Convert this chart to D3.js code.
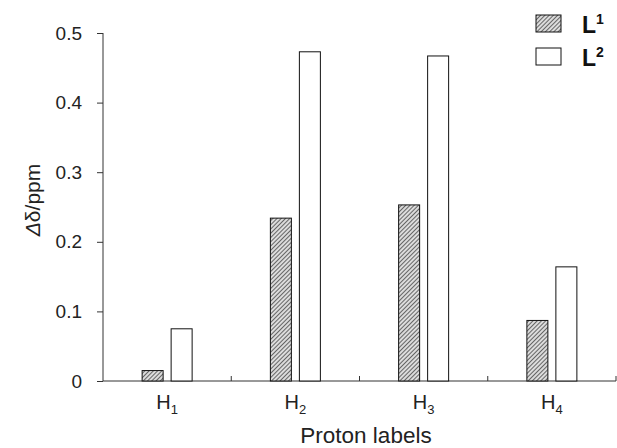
<!DOCTYPE html>
<html>
<head>
<meta charset="utf-8">
<script src="https://cdn.jsdelivr.net/npm/d3@7"></script>
<style>
  body { margin: 0; background: #fff; }
  svg { font-family: "Liberation Sans", Arial, sans-serif; }
</style>
</head>
<body>
<svg width="617" height="448"></svg>
<script>
// data
var protons = ["1", "2", "3", "4"];
var seriesNames = ["1", "2"];
var valuesL1 = [0.015, 0.234, 0.253, 0.087];
var valuesL2 = [0.075, 0.473, 0.467, 0.164];
var yTicks = [0, 0.1, 0.2, 0.3, 0.4, 0.5];

var svg = d3.select("svg");
var plotLeft = 103, plotRight = 616, plotTop = 33, plotBottom = 381;

var defs = svg.append("defs");
var pat = defs.append("pattern")
    .attr("id", "hatch")
    .attr("patternUnits", "userSpaceOnUse")
    .attr("width", 3)
    .attr("height", 3)
    .attr("patternTransform", "rotate(45)");
pat.append("rect").attr("width", 3).attr("height", 3).attr("fill", "#dcdcdc");
pat.append("line")
    .attr("x1", 0).attr("y1", 0).attr("x2", 0).attr("y2", 3)
    .attr("stroke", "#333").attr("stroke-width", 1.4);

var xScale = d3.scaleBand().domain(protons).range([plotLeft, plotRight]);
var yScale = d3.scaleLinear().domain([0, 0.5]).range([plotBottom, plotTop]);

// y axis
var yAxis = svg.append("g")
    .attr("transform", "translate(" + plotLeft + ",0)")
    .call(d3.axisLeft(yScale).tickValues(yTicks).tickSize(6).tickPadding(15)
        .tickFormat(function(d) { return d === 0 ? "0" : d3.format(".1f")(d); }));
yAxis.select(".domain").attr("stroke", "#333").attr("d", "M0," + plotTop + "V" + plotBottom);
yAxis.selectAll(".tick line").attr("stroke", "#333");
yAxis.selectAll("text").attr("font-size", 19).attr("fill", "#222")
    .attr("font-family", "Liberation Sans, Arial, sans-serif");

// x axis, ticks on band boundaries pointing up
var xg = svg.append("g");
xg.append("line")
    .attr("x1", plotLeft).attr("x2", plotRight)
    .attr("y1", plotBottom).attr("y2", plotBottom)
    .attr("stroke", "#333");
xg.selectAll(".bt")
    .data(protons)
    .enter()
    .append("line")
    .attr("x1", function(d) { return xScale(d) + xScale.bandwidth(); })
    .attr("x2", function(d) { return xScale(d) + xScale.bandwidth(); })
    .attr("y1", plotBottom).attr("y2", plotBottom - 5)
    .attr("stroke", "#333");

var lbl = xg.selectAll(".xl")
    .data(protons)
    .enter()
    .append("text")
    .attr("x", function(d) { return xScale(d) + xScale.bandwidth() / 2; })
    .attr("y", 409)
    .attr("text-anchor", "middle")
    .attr("font-size", 20)
    .attr("fill", "#222");
lbl.append("tspan").text("H");
lbl.append("tspan").attr("font-size", 13).attr("dy", 5).text(function(d) { return d; });

// bars
var barW = 21, gap = 8;
var groups = svg.selectAll(".grp")
    .data(protons)
    .enter()
    .append("g")
    .attr("transform", function(d) {
        return "translate(" + (xScale(d) + xScale.bandwidth() / 2) + ",0)";
    });
groups.append("rect")
    .attr("x", -barW - gap / 2)
    .attr("y", function(d, i) { return yScale(valuesL1[i]); })
    .attr("width", barW)
    .attr("height", function(d, i) { return plotBottom - yScale(valuesL1[i]); })
    .attr("fill", "url(#hatch)")
    .attr("stroke", "#111");
groups.append("rect")
    .attr("x", gap / 2)
    .attr("y", function(d, i) { return yScale(valuesL2[i]); })
    .attr("width", barW)
    .attr("height", function(d, i) { return plotBottom - yScale(valuesL2[i]); })
    .attr("fill", "#fff")
    .attr("stroke", "#111");

// axis titles
svg.append("text")
    .attr("transform", "translate(40,200) rotate(-90)")
    .attr("text-anchor", "middle")
    .attr("font-size", 21)
    .attr("fill", "#222")
    .html('<tspan font-style="italic">Δ</tspan>δ/ppm');
svg.append("text")
    .attr("x", 366).attr("y", 443)
    .attr("text-anchor", "middle")
    .attr("font-size", 22.5)
    .attr("fill", "#222")
    .text("Proton labels");

// legend
var leg = svg.selectAll(".leg")
    .data(seriesNames)
    .enter()
    .append("g")
    .attr("transform", function(d, i) { return "translate(536," + (15 + i * 33) + ")"; });
leg.append("rect")
    .attr("width", 25).attr("height", 17)
    .attr("fill", function(d, i) { return i === 0 ? "url(#hatch)" : "#fff"; })
    .attr("stroke", "#111");
var lt = leg.append("text")
    .attr("x", 46).attr("y", 18)
    .attr("font-size", 23)
    .attr("font-weight", "bold")
    .attr("fill", "#111");
lt.append("tspan").text("L");
lt.append("tspan").attr("font-size", 14).attr("dy", -9).text(function(d) { return d; });
</script>
</body>
</html>
